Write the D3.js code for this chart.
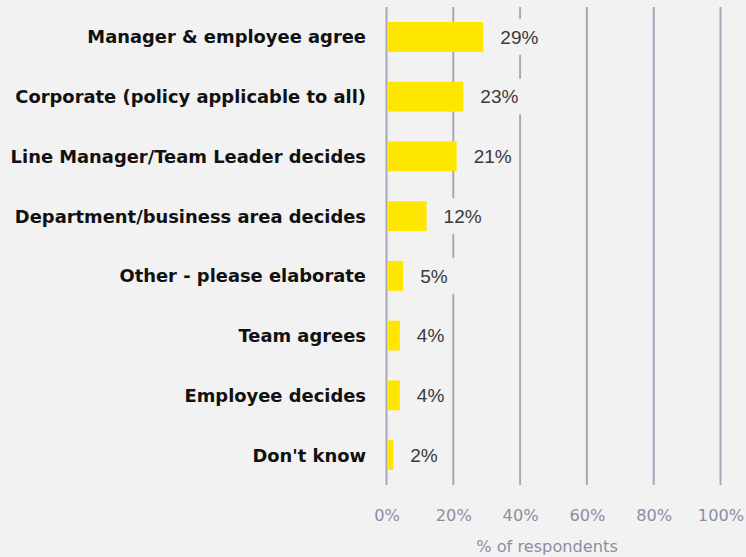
<!DOCTYPE html>
<html>
<head>
<meta charset="utf-8">
<script src="https://cdn.jsdelivr.net/npm/d3@7/dist/d3.min.js"></script>
<style>
  html, body { margin: 0; padding: 0; background: #f2f2f2; }
  svg { display: block; }
</style>
</head>
<body>
<svg id="chart" width="746" height="557"></svg>
<script>
// Who decides on the arrangement — share of respondents
const categories = [
  "Manager & employee agree",
  "Corporate (policy applicable to all)",
  "Line Manager/Team Leader decides",
  "Department/business area decides",
  "Other - please elaborate",
  "Team agrees",
  "Employee decides",
  "Don't know"
];
const values = [29, 23, 21, 12, 5, 4, 4, 2];
const tickValues = [0, 20, 40, 60, 80, 100];
const axisTitle = "% of respondents";

const bg = "#f2f2f2";
const svg = d3.select("#chart");
svg.append("rect").attr("width", 746).attr("height", 557).attr("fill", bg);

const margin = { left: 386.5, right: 24, top: 7, bottom: 72 };
const width = 746, height = 557;

const x = d3.scaleLinear().domain([0, 100]).range([margin.left, width - margin.right - 1.5]);
const y = d3.scaleBand().domain(categories).range([margin.top, height - margin.bottom]).paddingInner(0.5).paddingOuter(0.25);

// vertical grid lines
const gridG = svg.append("g");
gridG.selectAll("line").data(tickValues).join("line")
  .attr("x1", d => x(d)).attr("x2", d => x(d))
  .attr("y1", margin.top).attr("y2", height - margin.bottom)
  .attr("stroke", "#a8a7ba").attr("stroke-width", 2);

// bars
const data = categories.map((c, i) => ({ c, v: values[i] }));
svg.append("g").selectAll("rect").data(data).join("rect")
  .attr("x", x(0) + 1)
  .attr("y", d => y(d.c))
  .attr("width", d => x(d.v) - x(0) - 1)
  .attr("height", y.bandwidth())
  .attr("fill", "#ffe600");

// value labels, with a background patch breaking the grid lines
const lab = svg.append("g").selectAll("g").data(data).join("g");
lab.each(function(d) {
  const g = d3.select(this);
  const t = g.append("text")
    .attr("x", x(d.v) + 17)
    .attr("y", y(d.c) + y.bandwidth() / 2)
    .attr("dy", "0.36em")
    .attr("font-family", "'Liberation Sans', Arial, sans-serif")
    .attr("font-size", 19)
    .attr("fill", "#3a3a3a")
    .text(d.v + "%");
  const bb = t.node().getBBox();
  g.insert("rect", "text")
    .attr("x", bb.x - 10)
    .attr("y", y(d.c) - 3)
    .attr("width", bb.width + 17)
    .attr("height", y.bandwidth() + 6)
    .attr("fill", bg);
});

// category labels
svg.append("g").selectAll("text").data(data).join("text")
  .attr("x", 366)
  .attr("y", d => y(d.c) + y.bandwidth() / 2)
  .attr("dy", "0.36em")
  .attr("text-anchor", "end")
  .attr("font-family", "'DejaVu Sans', sans-serif")
  .attr("font-weight", "bold")
  .attr("font-size", 17.9)
  .attr("fill", "#111111")
  .text(d => d.c);

// x axis
const axis = d3.axisBottom(x).tickValues(tickValues).tickFormat(d => d + "%").tickSize(0).tickPadding(0);
const ax = svg.append("g").attr("transform", `translate(0,${height - margin.bottom})`).call(axis);
ax.select(".domain").remove();
ax.selectAll("text")
  .attr("y", 30)
  .attr("dy", "0.35em")
  .attr("font-family", "'DejaVu Sans', sans-serif")
  .attr("font-size", 16.2)
  .attr("fill", "#8e8da3");

svg.append("text")
  .attr("x", 547)
  .attr("y", 546)
  .attr("dy", "0.35em")
  .attr("text-anchor", "middle")
  .attr("font-family", "'DejaVu Sans', sans-serif")
  .attr("font-size", 16.2)
  .attr("fill", "#8e8da3")
  .text(axisTitle);
</script>
</body>
</html>
